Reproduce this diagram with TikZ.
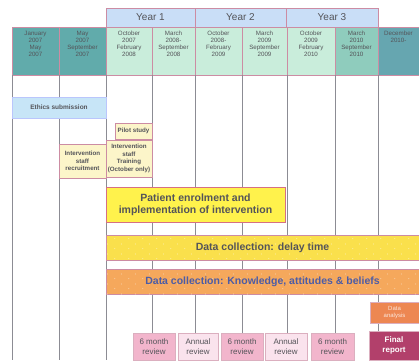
\documentclass[tikz,border=0pt]{standalone}
\usepackage{fontspec}
\setmainfont{Liberation Sans}
\usetikzlibrary{patterns.meta}
\definecolor{framepink}{rgb}{0.80,0.55,0.64}
\definecolor{gridgray}{rgb}{0.55,0.55,0.58}
\definecolor{yearblue}{rgb}{0.79,0.87,0.97}
\definecolor{tealdark}{rgb}{0.38,0.67,0.67}
\definecolor{mint}{rgb}{0.79,0.93,0.86}
\definecolor{tealmid}{rgb}{0.56,0.80,0.74}
\definecolor{tealdeep}{rgb}{0.40,0.65,0.69}
\definecolor{ethicsblue}{rgb}{0.78,0.90,0.97}
\definecolor{cream}{rgb}{0.99,0.96,0.79}
\definecolor{lemon}{rgb}{1.00,0.95,0.30}
\definecolor{sunyellow}{rgb}{0.98,0.88,0.30}
\definecolor{apricot}{rgb}{0.96,0.66,0.36}
\definecolor{tangerine}{rgb}{0.93,0.53,0.32}
\definecolor{raspberry}{rgb}{0.70,0.25,0.42}
\definecolor{rosepink}{rgb}{0.95,0.71,0.80}
\definecolor{blush}{rgb}{0.98,0.89,0.93}
\definecolor{inkgray}{rgb}{0.33,0.33,0.35}
\definecolor{inkblue}{rgb}{0.30,0.36,0.65}
\tikzdeclarepattern{
  name=sparsedots,
  type=uncolored,
  bounding box={(0pt,0pt) and (14pt,10pt)},
  tile size={(14pt,10pt)},
  code={\fill (3pt,2.5pt) circle (0.55pt); \fill (10pt,7.5pt) circle (0.55pt);}
}
\tikzset{
  cell/.style={
    draw=framepink,
    line width=.6pt,
    anchor=north west,
    inner sep=0pt,
    outer sep=0pt
  },
  yearbox/.style={
    cell,
    fill=yearblue,
    minimum height=19,
    font=\fontsize{10}{11}\selectfont,
    text=inkgray
  },
  monthbox/.style={
    cell,
    minimum height=48
  },
  monthtext/.style={
    anchor=north,
    align=center,
    inner sep=4pt,
    font=\fontsize{6.2}{7}\selectfont,
    text=inkgray
  },
  task/.style={
    cell,
    draw=framepink,
    fill=cream,
    align=center,
    font=\fontsize{6.2}{7.6}\selectfont\bfseries,
    text=inkgray
  },
  bar/.style={
    cell,
    align=center,
    font=\fontsize{10.5}{12}\selectfont\bfseries,
    text=inkgray
  },
  review/.style={
    cell,
    draw=framepink!70,
    minimum height=27,
    align=center,
    font=\fontsize{8}{9.6}\selectfont,
    text=inkgray
  }
}
\begin{document}
\begin{tikzpicture}[x=1pt,y=-1pt]
\useasboundingbox (0,0) rectangle (419,360);
\coordinate (bottom) at (0,360);
% years
\node[yearbox, minimum width=89] (y1) at (106,8) {Year 1};
\node[yearbox, minimum width=91] (y2) at (195,8) {Year 2};
\node[yearbox, minimum width=92] (y3) at (286,8) {Year 3};
% months
\node[monthbox, fill=tealdark, minimum width=47, label={[monthtext]north:{January\\2007\\May\\2007}}] (m1) at (12,27) {};
\node[monthbox, fill=tealdark, minimum width=47, label={[monthtext]north:{May\\2007\\September\\2007}}] (m2) at (59,27) {};
\node[monthbox, fill=mint, minimum width=46, label={[monthtext]north:{October\\2007\\February\\2008}}] (m3) at (106,27) {};
\node[monthbox, fill=mint, minimum width=43, label={[monthtext]north:{March\\2008-\\September\\2008}}] (m4) at (152,27) {};
\node[monthbox, fill=mint, minimum width=47, label={[monthtext]north:{October\\2008-\\February\\2009}}] (m5) at (195,27) {};
\node[monthbox, fill=mint, minimum width=45, label={[monthtext]north:{March\\2009\\September\\2009}}] (m6) at (242,27) {};
\node[monthbox, fill=mint, minimum width=48, label={[monthtext]north:{October\\2009\\February\\2010}}] (m7) at (287,27) {};
\node[monthbox, fill=tealmid, minimum width=43, label={[monthtext]north:{March\\2010\\September\\2010}}] (m8) at (335,27) {};
\node[monthbox, fill=tealdeep, minimum width=41, label={[monthtext]north:{December\\2010-}}] (m9) at (378,27) {};
% grid
\foreach \i in {1,...,9}
  \draw[gridgray, line width=.7pt] (m\i.south west) -- (m\i.south west |- bottom);
% tasks
\node[task, draw=ethicsblue!70!blue!60, fill=ethicsblue, minimum width=94, minimum height=21, font=\fontsize{6.5}{7.5}\selectfont\bfseries] (ethics) at (12,97) {Ethics submission};
\node[task, minimum width=37, minimum height=16] (pilot) at (115,123) {Pilot study};
\node[task, minimum width=47, minimum height=34] (recruit) at (59,144) {Intervention\\staff\\recruitment};
\node[task, minimum width=46, minimum height=37] (training) at (106,140) {Intervention\\staff\\Training\\(October only)};
\node[task, draw=framepink!80!red, fill=lemon, minimum width=179, minimum height=35, font=\fontsize{10.5}{12}\selectfont\bfseries] (enrol) at (106,187) {Patient enrolment and\\implementation of intervention};
\node[bar, fill=sunyellow, minimum width=313, minimum height=25, postaction={pattern=sparsedots, pattern color=white!60!sunyellow}] (delay) at (106,235) {Data collection: delay time};
\node[bar, fill=apricot, minimum width=313, minimum height=25, text=inkblue, postaction={pattern=sparsedots, pattern color=white!55!apricot}] (kab) at (106,269) {Data collection: Knowledge, attitudes \& beliefs};
% outputs
\node[review, fill=tangerine, minimum width=49, minimum height=21, font=\fontsize{6}{7}\selectfont, text=white!80!tangerine] (analysis) at (370,302) {Data\\analysis};
\node[review, fill=raspberry, minimum width=50, minimum height=29, font=\fontsize{8}{9.6}\selectfont\bfseries, text=white] (final) at (369,331) {Final\\report};
\node[review, fill=rosepink, minimum width=42] (rev1) at (133,333) {6 month\\review};
\node[review, fill=blush, minimum width=40] (rev2) at (178,333) {Annual\\review};
\node[review, fill=rosepink, minimum width=42] (rev3) at (221,333) {6 month\\review};
\node[review, fill=blush, minimum width=42] (rev4) at (265,333) {Annual\\review};
\node[review, fill=rosepink, minimum width=43] (rev5) at (311,333) {6 month\\review};
\end{tikzpicture}
\end{document}
